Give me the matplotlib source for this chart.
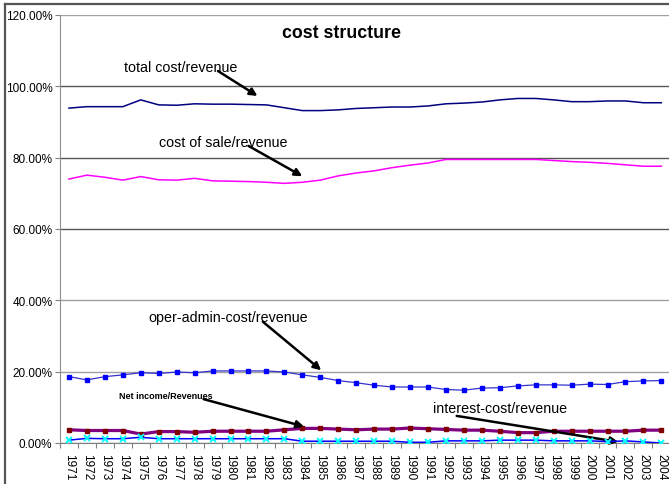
import matplotlib
matplotlib.use("Agg")
import matplotlib.pyplot as plt
from matplotlib.ticker import FixedLocator, PercentFormatter
from matplotlib.lines import Line2D
import numpy as np

plt.rcParams['font.family'] = ['Liberation Sans', 'DejaVu Sans']

years = [str(y) for y in range(1971, 2005)]

total_cost = [93.9, 94.3, 94.3, 94.3, 96.2, 94.8, 94.7, 95.1, 95.0, 95.0,
              94.9, 94.8, 94.0, 93.2, 93.2, 93.4, 93.8, 94.0, 94.2, 94.2,
              94.5, 95.1, 95.3, 95.6, 96.2, 96.6, 96.6, 96.2, 95.7, 95.7,
              95.9, 95.9, 95.4, 95.4]
cost_of_sale = [74.0, 75.1, 74.5, 73.7, 74.7, 73.8, 73.7, 74.2, 73.5, 73.4,
                73.3, 73.1, 72.8, 73.1, 73.7, 74.9, 75.7, 76.3, 77.2, 77.9,
                78.5, 79.5, 79.5, 79.5, 79.5, 79.5, 79.5, 79.2, 78.9, 78.7,
                78.4, 78.0, 77.6, 77.6]
oper_admin = [18.6, 17.7, 18.6, 19.1, 19.7, 19.5, 19.9, 19.7, 20.2, 20.2,
              20.2, 20.2, 19.9, 19.1, 18.4, 17.5, 16.9, 16.2, 15.7, 15.7,
              15.7, 15.0, 14.8, 15.4, 15.5, 16.0, 16.3, 16.3, 16.2, 16.5,
              16.4, 17.2, 17.4, 17.5]
net_income = [3.7, 3.5, 3.5, 3.5, 2.5, 3.2, 3.2, 3.0, 3.3, 3.3,
              3.3, 3.3, 3.7, 4.1, 4.1, 3.9, 3.7, 3.9, 3.9, 4.2,
              4.0, 3.8, 3.6, 3.6, 3.3, 2.9, 2.9, 3.3, 3.3, 3.3,
              3.3, 3.3, 3.6, 3.6]
interest_cost = [0.8, 1.3, 1.2, 1.2, 1.6, 1.2, 1.2, 1.2, 1.2, 1.2,
                 1.2, 1.2, 1.2, 0.5, 0.5, 0.5, 0.5, 0.5, 0.5, 0.2,
                 0.2, 0.6, 0.6, 0.6, 0.8, 0.8, 0.8, 0.6, 0.6, 0.6,
                 0.4, 0.6, 0.3, 0.0]

W, H = 669, 485
fig = plt.figure(figsize=(W / 100, H / 100), dpi=100)
fig.patch.set_facecolor('white')

# chart-area frame (left and top edges)
fig.add_artist(Line2D([5 / W, 5 / W], [0, 1 - 5 / H], transform=fig.transFigure,
                      color='#555555', lw=1.6))
fig.add_artist(Line2D([5 / W, 1], [1 - 5 / H, 1 - 5 / H], transform=fig.transFigure,
                      color='#555555', lw=1.6))

ax = fig.add_axes([60 / W, 1 - 444 / H, 1 - 60 / W + 0.002, (444 - 16) / H])
x = np.arange(len(years))

ax.plot(x, total_cost, color='#000080', lw=1.1, zorder=3)
ax.plot(x, cost_of_sale, color='#FF00FF', lw=1.1, zorder=3)
ax.plot(x, oper_admin, color='#3333CC', lw=0.9, marker='s', ms=3,
        mfc='#0000FF', mec='#0000FF', zorder=3)
ax.plot(x, net_income, color='#800080', lw=2.3, marker='s', ms=3,
        mfc='#800000', mec='#800000', zorder=3)
ax.plot(x, interest_cost, color='#0000FF', lw=1.1, marker='x', ms=4.5,
        mew=1.4, mec='#00FFFF', zorder=4)

ax.set_xlim(-0.5, len(years) - 0.5)
ax.set_ylim(0, 120)
ax.yaxis.set_major_locator(FixedLocator([0, 20, 40, 60, 80, 100, 120]))
ax.yaxis.set_major_formatter(PercentFormatter(decimals=2))

ax.set_xticks(x)
ax.set_xticklabels(years, rotation=-90, fontsize=8.5)
ax.xaxis.set_minor_locator(FixedLocator(np.arange(-0.5, len(years), 1.0)))
ax.tick_params(axis='x', which='major', length=0, pad=7)
ax.tick_params(axis='x', which='minor', length=3.5, width=0.8, color='#808080',
               direction='out')
ax.tick_params(axis='y', length=3.5, width=0.8, color='#808080', labelsize=8.5, pad=2)

ax.grid(axis='y', zorder=0)
grid_colors = {0: '#808080', 20: '#a0a0a0', 40: '#a0a0a0', 60: '#555555',
               80: '#555555', 100: '#555555', 120: '#a0a0a0'}
for val, gl in zip([0, 20, 40, 60, 80, 100, 120], ax.get_ygridlines()):
    gl.set_color(grid_colors[val])
    gl.set_linewidth(1.0)

for side in ['top', 'right']:
    ax.spines[side].set_visible(False)
ax.spines['left'].set_color('#909090')
ax.spines['bottom'].set_color('#808080')

fig.text(342 / W, 1 - 33 / H, 'cost structure', ha='center', va='center',
         fontsize=12.8, fontweight='bold')

arrow = dict(arrowstyle='-|>', lw=1.8, color='black', mutation_scale=11,
             shrinkA=0, shrinkB=0)

ax.annotate('', xy=(10.5, 97.3), xytext=(8.3, 104.3), arrowprops=arrow)
ax.text(6.25, 105.4, 'total cost/revenue', ha='center', va='center', fontsize=10.3)

ax.annotate('', xy=(13.0, 74.8), xytext=(10.0, 83.3), arrowprops=arrow)
ax.text(8.6, 84.4, 'cost of sale/revenue', ha='center', va='center', fontsize=10.3)

ax.annotate('', xy=(14.05, 20.4), xytext=(10.8, 34.0), arrowprops=arrow)
ax.text(8.85, 35.3, 'oper-admin-cost/revenue', ha='center', va='center', fontsize=10.3)

ax.annotate('', xy=(13.1, 4.6), xytext=(7.5, 12.3), arrowprops=arrow)
ax.text(5.4, 13.2, 'Net income/Revenues', ha='center', va='center', fontsize=6.5,
        fontweight='bold')

ax.annotate('', xy=(30.6, 0.3), xytext=(21.6, 7.6), arrowprops=arrow)
ax.text(24.0, 9.8, 'interest-cost/revenue', ha='center', va='center', fontsize=10.3)

fig.savefig('out.png', dpi=100)
